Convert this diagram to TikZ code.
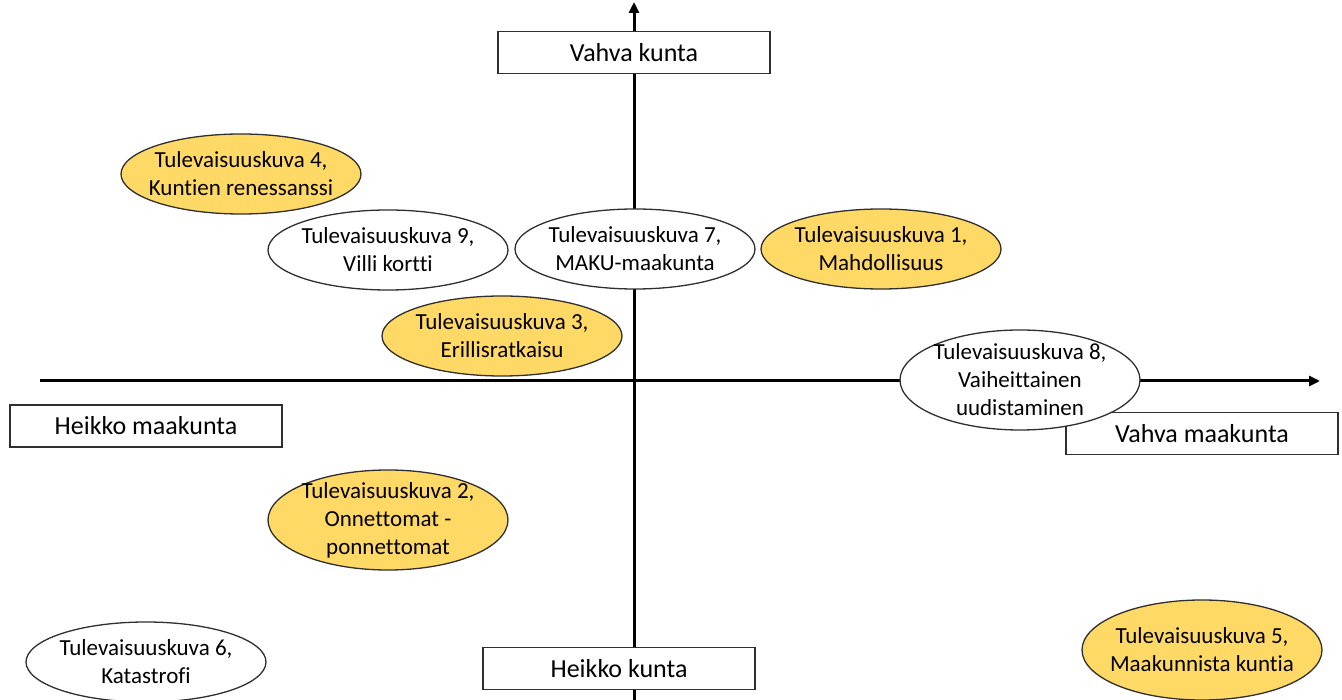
\documentclass[tikz,border=0pt]{standalone}
\usepackage{fontspec}
\setmainfont{Carlito}[Ligatures=NoCommon]
\usetikzlibrary{arrows.meta, shapes.geometric}
\usepackage{xcolor}
\definecolor{futurecol}{HTML}{FFD966}
\definecolor{edgecol}{HTML}{2F2F2F}

\begin{document}
\begin{tikzpicture}[x=1pt, y=-1pt,
  axis/.style={line width=3pt, -{Triangle[length=11pt, width=10pt]}},
  scen/.style={draw=edgecol, line width=1.3pt, ellipse, inner sep=-20pt, minimum width=240pt, minimum height=80pt, align=center, font=\fontsize{23}{28}\selectfont},
  tall/.style={minimum height=100pt},
  hot/.style={fill=futurecol},
  cold/.style={fill=white},
  labelbox/.style={draw=edgecol, line width=1.5pt, fill=white, minimum width=272pt, minimum height=42pt, inner sep=0pt, font=\fontsize{26}{30}\selectfont}
]
\useasboundingbox (0,0) rectangle (1342,700);

% axes
\coordinate (ybot) at (634,702);
\coordinate (ytop) at (634,2);
\coordinate (xleft) at (40,381);
\coordinate (xright) at (1320,381);
\draw[axis] (ybot) -- (ytop);
\draw[axis] (xleft) -- (xright);

% axis labels
\node[labelbox] (strongmun) at (634,52.5) {Vahva kunta};
\node[labelbox] (weakmun) at (619,668.5) {Heikko kunta};
\node[labelbox] (weakreg) at (146,426) {Heikko maakunta};
\node[labelbox] (strongreg) at (1202,433.5) {Vahva maakunta};

% scenarios
\node[scen, hot] (tk4) at (241,174) {Tulevaisuuskuva 4,\\Kuntien renessanssi};
\node[scen, cold] (tk9) at (388,250) {Tulevaisuuskuva 9,\\Villi kortti};
\node[scen, cold] (tk7) at (635,249) {Tulevaisuuskuva 7,\\MAKU-maakunta};
\node[scen, hot] (tk1) at (881,249) {Tulevaisuuskuva 1,\\Mahdollisuus};
\node[scen, hot] (tk3) at (502,336) {Tulevaisuuskuva 3,\\Erillisratkaisu};
\node[scen, tall, cold] (tk8) at (1020,380) {Tulevaisuuskuva 8,\\Vaiheittainen\\uudistaminen};
\node[scen, tall, hot] (tk2) at (388,520) {Tulevaisuuskuva 2,\\Onnettomat -\\ponnettomat};
\node[scen, cold] (tk6) at (146,662) {Tulevaisuuskuva 6,\\Katastrofi};
\node[scen, tall, hot] (tk5) at (1202,650) {Tulevaisuuskuva 5,\\Maakunnista kuntia};
\end{tikzpicture}
\end{document}
